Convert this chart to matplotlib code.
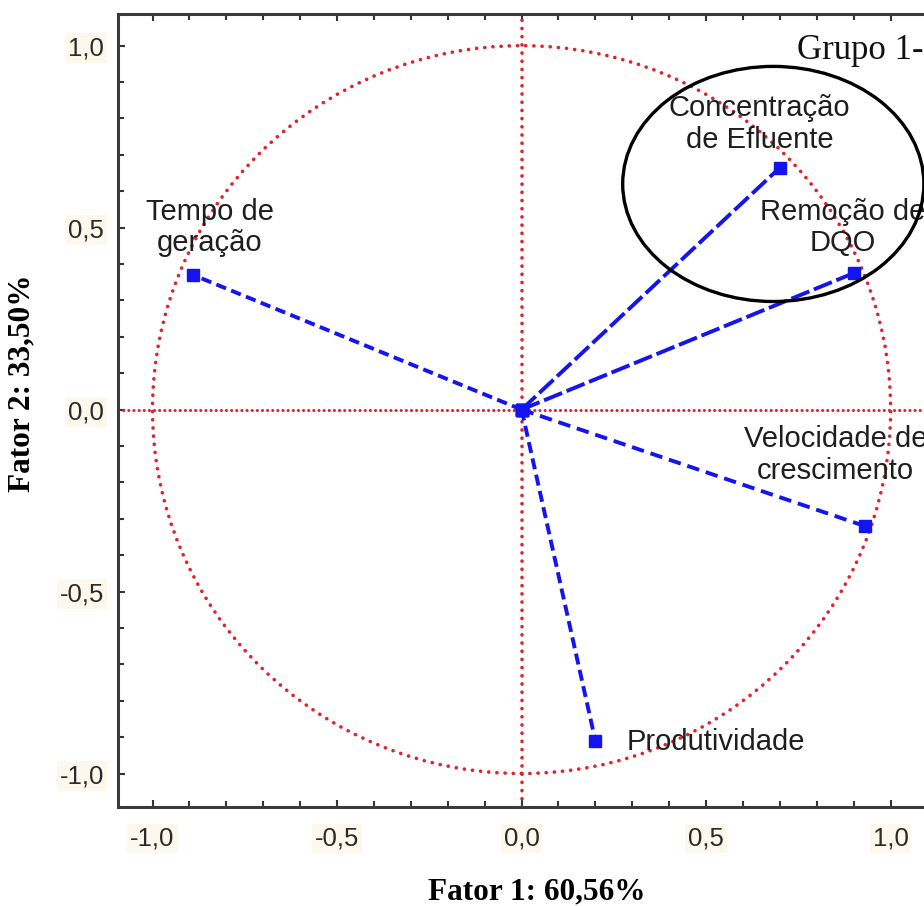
import matplotlib
matplotlib.use("Agg")
import matplotlib.pyplot as plt
from matplotlib.patches import Circle, Ellipse
from matplotlib.ticker import MultipleLocator

plt.rcParams['lines.scale_dashes'] = False

# Data: loadings on Factor 1 / Factor 2
variables = ["Tempo de geração", "Concentração de Efluente", "Remoção de DQO",
             "Velocidade de crescimento", "Produtividade"]
fator1 = [-0.89, 0.70, 0.90, 0.93, 0.20]
fator2 = [0.37, 0.665, 0.375, -0.32, -0.91]
labels = ["Tempo de\ngeração", "Concentração\nde Efluente", "Remoção de\nDQO",
          "Velocidade de\ncrescimento", "Produtividade"]
label_x = [-0.845, 0.645, 0.87, 0.85, 0.285]
label_y = [0.50, 0.785, 0.50, -0.125, -0.913]
label_ha = ["center", "center", "center", "center", "left"]
dash_styles = [(0, (7.5, 4.0)), (0, (14.0, 3.5)), (0, (14.0, 3.5)),
               (0, (9.0, 5.0)), (0, (8.0, 4.0))]
tick_vals = [-1.0, -0.5, 0.0, 0.5, 1.0]
tick_text = ["-1,0", "-0,5", "0,0", "0,5", "1,0"]

W, H = 924, 906
fig = plt.figure(figsize=(W / 100, H / 100), dpi=100)
ax = fig.add_axes([118 / W, 99 / H, 828 / W, 793 / H])
ax.set_xlim(-1.0935, 1.15)
ax.set_ylim(-1.092, 1.087)

red = "#e3202b"
blue = "#1414f0"

# unit circle and zero lines
ax.add_patch(Circle((0, 0), 1.0, fill=False, edgecolor=red, linewidth=2.6,
                    linestyle=(0, (0.1, 5.8)), capstyle="round", zorder=2))
ax.axhline(0, color=red, linewidth=2.2, linestyle=(0, (0.1, 3.6)),
           dash_capstyle="round", zorder=2)
ax.axvline(0, color=red, linewidth=2.6, linestyle=(0, (0.1, 5.8)),
           dash_capstyle="round", zorder=2)

for x, y, ds in zip(fator1, fator2, dash_styles):
    ax.plot([0, x], [0, y], color=blue, linewidth=2.8, linestyle=ds,
            marker="s", markersize=9, markerfacecolor=blue, markeredgecolor=blue,
            zorder=3)

for t, x, y, ha in zip(labels, label_x, label_y, label_ha):
    ax.text(x, y, t, ha=ha, va="center", fontsize=21, color="#1e1e1e",
            family="Liberation Sans", linespacing=1.15, zorder=4)

ax.text(0.745, 0.988, "Grupo 1-", ha="left", va="center", fontsize=25,
        family="Liberation Serif", color="#111111", clip_on=False)

ax.add_patch(Ellipse((0.682, 0.62), 0.816, 0.646, fill=False, edgecolor="black",
                     linewidth=2.4, zorder=5, clip_on=False))

ax.set_xticks(tick_vals)
ax.set_xticklabels(tick_text)
ax.set_yticks(tick_vals)
ax.set_yticklabels(tick_text)
ax.xaxis.set_minor_locator(MultipleLocator(0.1))
ax.yaxis.set_minor_locator(MultipleLocator(0.1))
ax.tick_params(which="both", direction="in", top=True, right=True,
               color="#333333", width=1.5)
ax.tick_params(which="major", length=5)
ax.tick_params(which="minor", length=4)
ax.tick_params(axis="x", which="major", pad=14, labelsize=18.5, labelcolor="#2a2a2a")
ax.tick_params(axis="y", which="major", pad=10, labelsize=18.5, labelcolor="#2a2a2a")
for lab in ax.get_xticklabels() + ax.get_yticklabels():
    lab.set_family("Liberation Sans")
    lab.set_bbox(dict(facecolor="#fdf8ec", edgecolor="none", pad=2))

for s in ax.spines.values():
    s.set_linewidth(2.2)
    s.set_color("#3a3a3a")

fig.text(537 / W, 1 - 892 / H, "Fator 1: 60,56%", ha="center", va="center",
         fontsize=22.5, fontweight="bold", family="Liberation Serif")
fig.text(22 / W, 1 - 383 / H, "Fator 2: 33,50%", ha="center", va="center",
         rotation=90, fontsize=22.5, fontweight="bold", family="Liberation Serif")

fig.savefig("out.png", dpi=100)
